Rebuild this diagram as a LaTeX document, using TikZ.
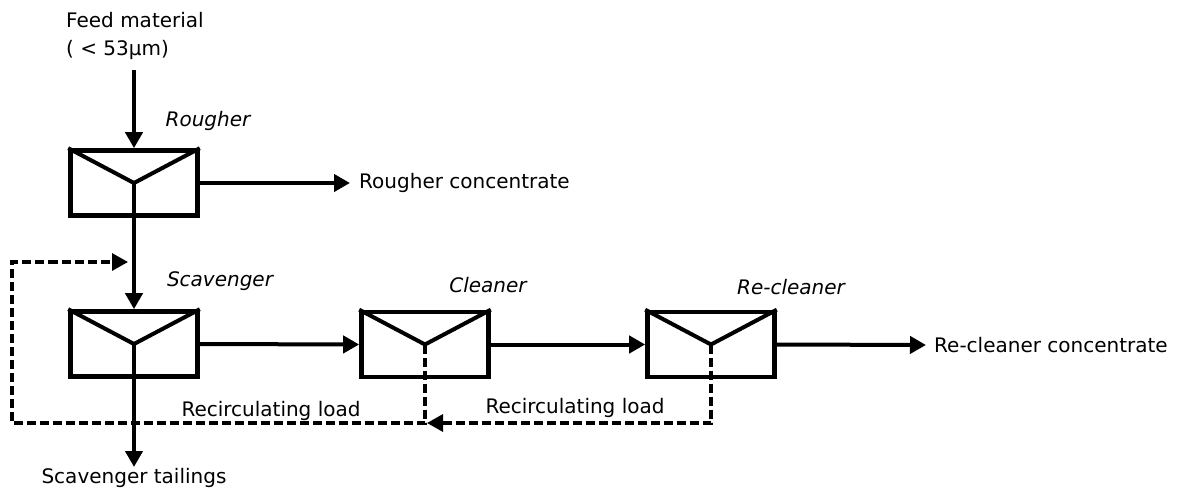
\documentclass[tikz,border=0pt]{standalone}
\usepackage{fontspec}
\setmainfont{DejaVu Sans}
\usetikzlibrary{arrows.meta}
\begin{document}
\begin{tikzpicture}[x=1pt,y=-1pt,
  cell/.style={draw,line width=4.6pt,minimum width=127pt,minimum height=65pt,inner sep=0pt},
  vee/.style={line width=4pt},
  flow/.style={line width=4pt,-{Triangle[length=16pt,width=17pt]}},
  recyc/.style={line width=3.2pt,dash pattern=on 9pt off 4pt,-{Triangle[length=16pt,width=17pt]}},
  lbl/.style={font=\fontsize{20}{28}\selectfont,inner sep=0pt},
  ital/.style={lbl,font=\fontsize{20}{28}\selectfont\itshape}]
\useasboundingbox (0,0) rectangle (1179,490);
% units
\node[cell] (R) at (134,183) {};
\node[cell] (S) at (134,344) {};
\node[cell] (C) at (425,344.5) {};
\node[cell] (E) at (711,344.5) {};
\foreach \n in {R,S,C,E}{\draw[vee] (\n.north west) -- (\n.center) -- (\n.north east);}
% labels
\node[lbl,anchor=west,align=left] (F) at (66,36) {Feed material\\( < 53µm)};
\node[ital] (Rl) at (208,121) {Rougher};
\node[ital] (Sl) at (220,281) {Scavenger};
\node[ital] (Cl) at (488,285) {Cleaner};
\node[ital] (El) at (791,287) {Re-cleaner};
\node[lbl,anchor=west] (RCn) at (359,183) {Rougher concentrate};
\node[lbl,anchor=west] (ECn) at (934,345) {Re-cleaner concentrate};
\node[lbl] (T) at (134,478) {Scavenger tailings};
\node[lbl] (L1) at (271,411) {Recirculating load};
\node[lbl] (L2) at (575,408) {Recirculating load};
% coordinates
\coordinate (fin) at (134,70);
\coordinate (rcTip) at (350,183);
\coordinate (ecTip) at (926,345);
\coordinate (tTip) at (134,467);
\coordinate (ret) at (128,262);
\coordinate (ret2) at (427,423);
% flows
\draw[flow] (fin) -- (R.north);
\draw[flow] (R.east) -- (rcTip);
\draw[flow] (R.center) -- (S.north);
\draw[flow] (S.center) -- (tTip);
\draw[flow] (S.east) -- (C.west);
\draw[flow] (C.east) -- (E.west);
\draw[flow] (E.east) -- (ecTip);
% recirculation
\draw[recyc] (C.center) -- (C.center |- ret2) -- (12,423) -- (12,262) -- (ret);
\draw[recyc] (E.center) -- (E.center |- ret2) -- (ret2);
\end{tikzpicture}
\end{document}
